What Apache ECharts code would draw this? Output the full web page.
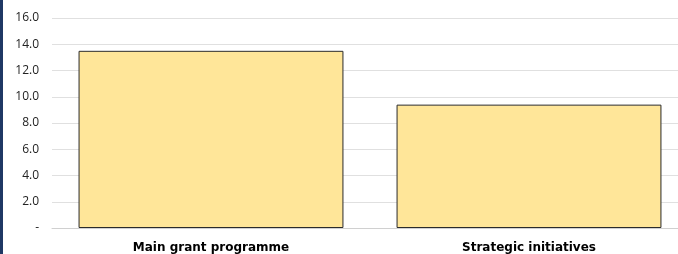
<!DOCTYPE html>
<html>
<head>
<meta charset="utf-8">
<script src="https://cdn.jsdelivr.net/npm/echarts@6/dist/echarts.min.js"></script>
<style>
    html, body { margin: 0; padding: 0; background: #fff; overflow: hidden; }
    /* 图表比窗口略宽，右侧被裁掉 */
    #chart { width: 688px; height: 254px; }
</style>
</head>
<body>
<div id="chart"></div>
<script>
    // 类目
    let categories = ['Main grant programme', 'Strategic initiatives'];
    // 数值
    let values = [13.5, 9.4];

    let chart = echarts.init(document.getElementById('chart'));

    let option = {
        animation: false,
        graphic: [
            {
                // 左侧深蓝边
                type: 'rect',
                left: 0,
                top: 0,
                shape: { width: 3, height: 254 },
                style: { fill: '#1f3864' }
            }
        ],
        grid: {
            left: 52,
            right: 0,
            top: 18,
            bottom: 25
        },
        xAxis: {
            type: 'category',
            data: categories,
            axisTick: { show: false },
            axisLine: { lineStyle: { color: '#d0d0d0', width: 1 } },
            axisLabel: {
                margin: 14,
                color: '#000',
                fontSize: 12,
                fontWeight: 'bold',
                fontFamily: 'DejaVu Sans'
            }
        },
        yAxis: {
            type: 'value',
            min: 0,
            max: 16,
            interval: 2,
            axisLine: { show: false },
            axisTick: { show: false },
            splitLine: { lineStyle: { color: '#e0e0e0', width: 1 } },
            axisLabel: {
                margin: 13,
                color: '#222',
                fontSize: 12,
                fontFamily: 'Open Sans',
                formatter: function (v) {
                    return v === 0 ? '-' : v.toFixed(1);
                }
            }
        },
        series: [
            {
                type: 'bar',
                data: values,
                barCategoryGap: '16.7%',
                itemStyle: {
                    color: '#ffe699',
                    borderColor: '#2b2b2b',
                    borderWidth: 1
                }
            }
        ]
    };
    chart.setOption(option);
</script>
</body>
</html>
